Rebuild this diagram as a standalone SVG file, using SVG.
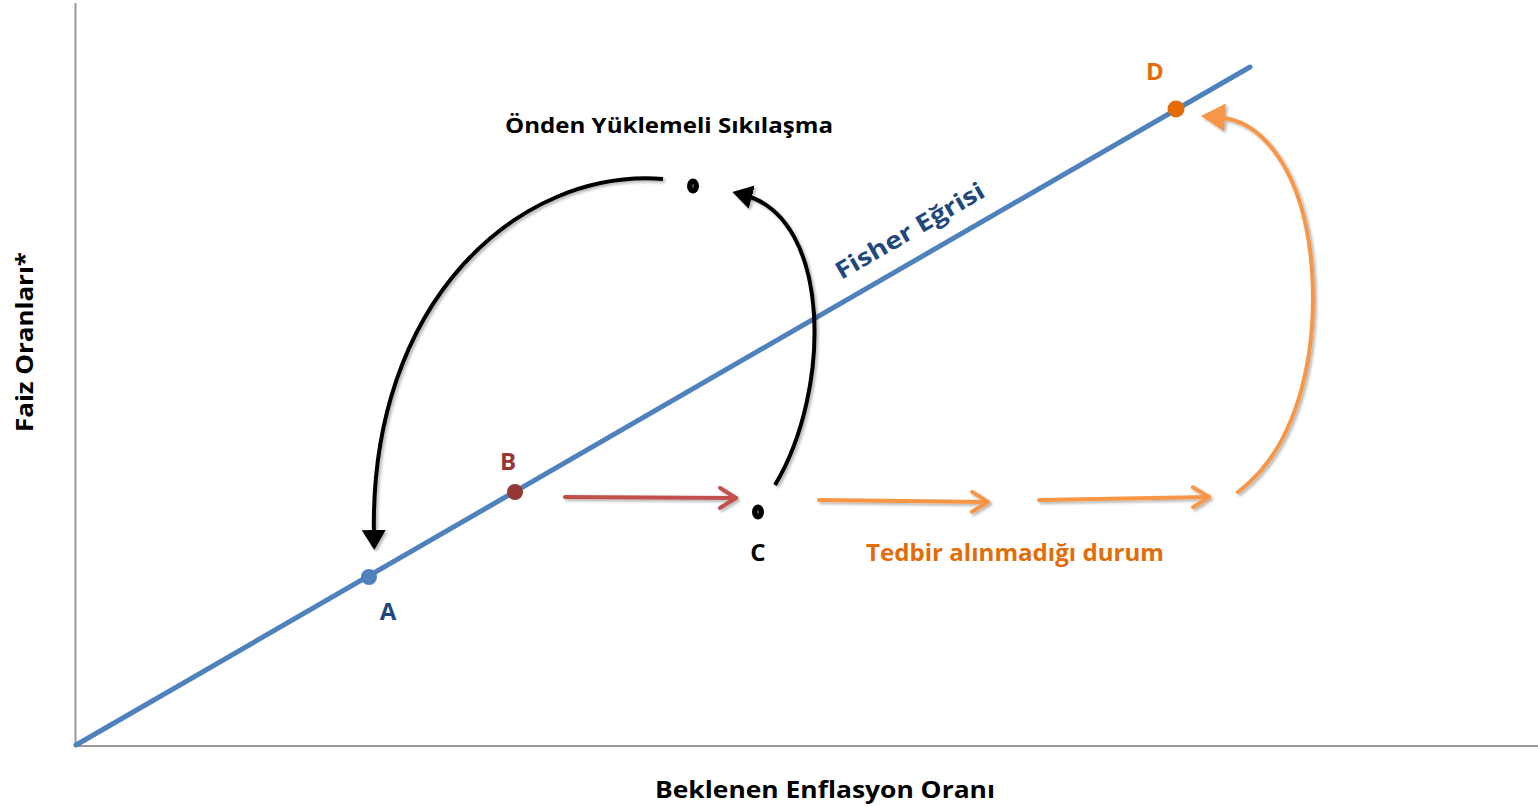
<svg xmlns="http://www.w3.org/2000/svg" width="1538" height="807" viewBox="0 0 1538 807">
<style>
.lbl{font-family:"Open Sans","Liberation Sans",sans-serif;font-weight:bold;}
.axis{stroke:#999;stroke-width:2;fill:none;}
.blk{stroke:#000;stroke-width:4;fill:none;}
.org{stroke:#F79646;stroke-width:4;fill:none;stroke-linecap:round;}
.red{stroke:#C0504D;stroke-width:4;fill:none;stroke-linecap:round;}
</style>
<defs>
<filter id="sh" x="-10%" y="-10%" width="130%" height="130%">
<feGaussianBlur in="SourceAlpha" stdDeviation="1.5"/>
<feOffset dx="2" dy="2" result="b"/>
<feComponentTransfer><feFuncA type="linear" slope="0.3"/></feComponentTransfer>
<feMerge><feMergeNode/><feMergeNode in="SourceGraphic"/></feMerge>
</filter>
<marker id="tb" markerWidth="7" markerHeight="6" refX="2" refY="3" orient="auto" markerUnits="strokeWidth"><path d="M0,0 L5,3 L0,6 Z" fill="#000"/></marker>
<marker id="to" markerWidth="7" markerHeight="7" refX="2" refY="3.5" orient="auto" markerUnits="strokeWidth"><path d="M0,0 L6,3.5 L0,7 Z" fill="#F79646"/></marker>
<marker id="co" markerWidth="6" markerHeight="6" refX="5" refY="3" orient="auto" markerUnits="strokeWidth"><path d="M1,0.5 L5,3 L1,5.5" fill="none" stroke="#F79646" stroke-width="1" stroke-linecap="round" stroke-linejoin="round"/></marker>
<marker id="cr" markerWidth="6" markerHeight="6" refX="5" refY="3" orient="auto" markerUnits="strokeWidth"><path d="M1,0.5 L5,3 L1,5.5" fill="none" stroke="#C0504D" stroke-width="1" stroke-linecap="round" stroke-linejoin="round"/></marker>
</defs>
<rect width="1538" height="807" fill="#fff"/>
<g id="axes">
<line class="axis" x1="75.5" y1="3" x2="75.5" y2="747"/>
<line class="axis" x1="75" y1="746" x2="1538" y2="746"/>
<text class="lbl" x="825" y="798" font-size="23" text-anchor="middle" fill="#000" textLength="340" lengthAdjust="spacingAndGlyphs">Beklenen Enflasyon Oranı</text>
<text class="lbl" transform="translate(33,342) rotate(-90)" font-size="23" text-anchor="middle" fill="#000" textLength="180" lengthAdjust="spacingAndGlyphs">Faiz Oranları*</text>
</g>
<g id="fisher">
<line x1="76" y1="745" x2="1250" y2="67" stroke="#4F81BD" stroke-width="5" stroke-linecap="round"/>
<text class="lbl" transform="translate(914,238) rotate(-30)" font-size="24" text-anchor="middle" fill="#1F497D" textLength="168" lengthAdjust="spacingAndGlyphs">Fisher Eğrisi</text>
</g>
<g id="connectors" filter="url(#sh)">
<path class="blk" d="M663,179 C520,168 368,300 374,538" marker-end="url(#tb)"/>
<path class="blk" d="M775,485 C832,390 832,218 744,195" marker-end="url(#tb)"/>
<path class="red" d="M565,497 L736,498" marker-end="url(#cr)"/>
<path class="org" d="M819,500 L988,502" marker-end="url(#co)"/>
<path class="org" d="M1039,500 L1209,497" marker-end="url(#co)"/>
<path class="org" d="M1238,492 C1295,450 1318,360 1312,270 C1305,175 1265,120 1217,117" marker-end="url(#to)"/>
</g>
<g id="nodeA">
<circle cx="369" cy="577" r="8" fill="#4F81BD"/>
<text class="lbl" x="388" y="620" font-size="24" text-anchor="middle" fill="#1F497D">A</text>
</g>
<g id="nodeB">
<circle cx="515" cy="492" r="8" fill="#953735"/>
<text class="lbl" x="508" y="470" font-size="24" text-anchor="middle" fill="#953735">B</text>
</g>
<g id="nodeC">
<ellipse cx="758" cy="512" rx="6" ry="7.5" fill="#000"/>
<ellipse cx="758" cy="512" rx="1" ry="2" fill="#555"/>
<text class="lbl" x="758" y="561" font-size="24" text-anchor="middle" fill="#000">C</text>
</g>
<g id="nodeTop">
<ellipse cx="693" cy="186" rx="6" ry="7.5" fill="#000"/>
<ellipse cx="693" cy="186" rx="1" ry="2" fill="#555"/>
<text class="lbl" x="669" y="133" font-size="22" text-anchor="middle" fill="#000" textLength="328" lengthAdjust="spacingAndGlyphs">Önden Yüklemeli Sıkılaşma</text>
</g>
<g id="nodeD">
<circle cx="1176" cy="109" r="8.5" fill="#E36C09"/>
<text class="lbl" x="1155" y="80" font-size="24" text-anchor="middle" fill="#E36C09">D</text>
</g>
<g id="tedbir">
<text class="lbl" x="1015" y="561" font-size="23" text-anchor="middle" fill="#E36C09" textLength="298" lengthAdjust="spacingAndGlyphs">Tedbir alınmadığı durum</text>
</g>
</svg>
